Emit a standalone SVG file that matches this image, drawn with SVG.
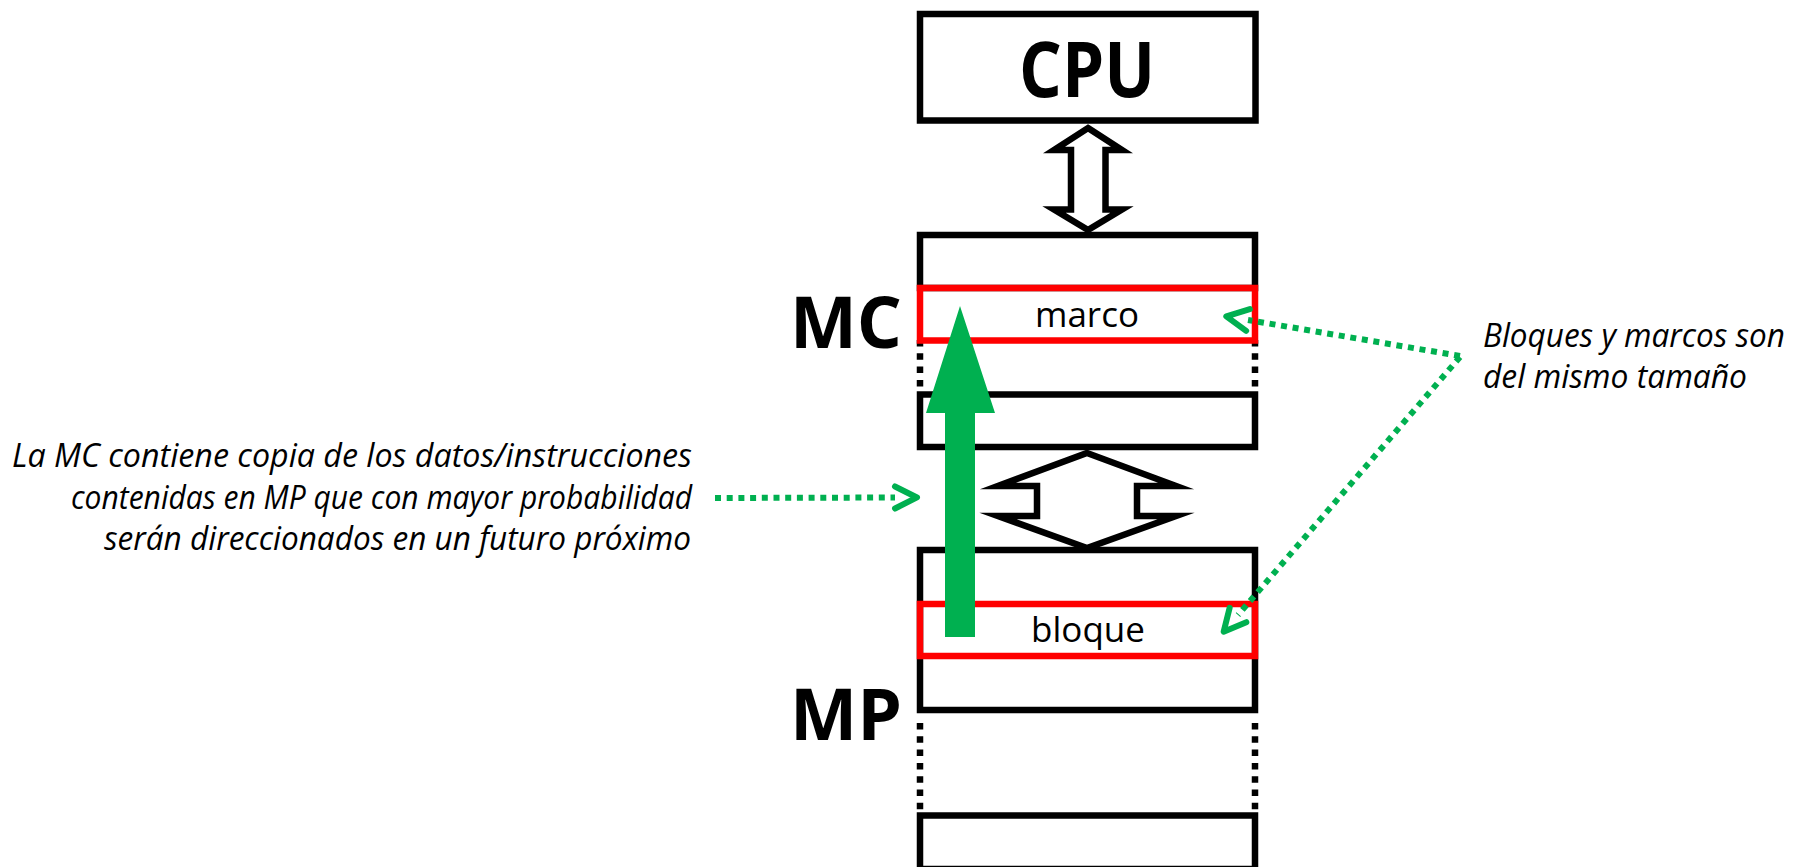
<svg xmlns="http://www.w3.org/2000/svg" width="1795" height="867" viewBox="0 0 1795 867">
  <style>
    .box { fill: #ffffff; stroke: #000000; stroke-width: 6.5; }
    .dots { fill: none; stroke: #000000; stroke-width: 6.5; stroke-dasharray: 6.5 6.8; }
    .slot { fill: none; stroke: #ff0000; stroke-width: 6.5; }
    .bus { fill: #ffffff; stroke: #000000; stroke-width: 6.5; stroke-linejoin: miter; stroke-miterlimit: 10; }
    .hint { fill: none; stroke: #00b050; stroke-width: 6; stroke-dasharray: 6 5.7; }
    .big { font-family: "Open Sans", "Liberation Sans", sans-serif; font-weight: bold; fill: #000000; }
    .lbl { font-family: "Open Sans", "Liberation Sans", sans-serif; font-size: 35px; fill: #000000; }
    .note { font-family: "Open Sans", "Liberation Sans", sans-serif; font-style: italic; font-size: 32px; fill: #000000; }
  </style>
  <defs>
    <marker id="chev" markerUnits="userSpaceOnUse" orient="auto" refX="0" refY="0" markerWidth="30" markerHeight="30" overflow="visible">
      <path d="M0,-11 L22,0 L0,11" fill="none" stroke="#00b050" stroke-width="6" stroke-linecap="round" stroke-linejoin="round"/>
    </marker>
  </defs>

  <rect width="1795" height="867" fill="#ffffff"/>

  <!-- processor -->
  <g id="cpu">
    <rect class="box" x="920" y="14" width="335.5" height="106.5"/>
    <text class="big" x="1087" y="97" font-size="77" text-anchor="middle" textLength="136" lengthAdjust="spacingAndGlyphs">CPU</text>
  </g>

  <!-- cache memory -->
  <g id="mc">
    <rect class="box" x="920" y="235" width="335" height="53"/>
    <line class="dots" x1="920" y1="340" x2="920" y2="389"/>
    <line class="dots" x1="1255" y1="340" x2="1255" y2="389"/>
    <rect class="box" x="920" y="394.5" width="335" height="52.5"/>
    <text class="big" x="790" y="348" font-size="72" textLength="112" lengthAdjust="spacingAndGlyphs">MC</text>
  </g>
  <g id="marco">
    <rect class="slot" x="920" y="288" width="335" height="52.5"/>
    <text class="lbl" x="1087" y="327" text-anchor="middle">marco</text>
  </g>

  <!-- main memory -->
  <g id="mp">
    <rect class="box" x="920" y="550" width="335" height="160"/>
    <line class="dots" x1="920" y1="723" x2="920" y2="811" stroke-dasharray="6 7.3"/>
    <line class="dots" x1="1255" y1="723" x2="1255" y2="811" stroke-dasharray="6 7.3"/>
    <rect class="box" x="920" y="815.5" width="335" height="53.5"/>
    <text class="big" x="790" y="740" font-size="72" textLength="112" lengthAdjust="spacingAndGlyphs">MP</text>
  </g>
  <g id="bloque">
    <rect class="slot" x="920" y="604" width="335" height="52"/>
    <text class="lbl" x="1088" y="642" text-anchor="middle">bloque</text>
  </g>

  <!-- buses, transfer and annotation links -->
  <g id="connectors">
    <polygon class="bus" points="1088,128 1122,150 1105.5,150 1105.5,209.5 1122,209.5 1088,230 1054,209.5 1071,209.5 1071,150 1054,150"/>
    <polygon class="bus" points="1087,453 1176,486 1137,486 1137,516 1176,516 1087,548 998,516 1037,516 1037,486 998,486"/>
    <polygon fill="#00b050" points="960,306 995,413 975,413 975,637 945,637 945,413 926,413"/>
    <line class="hint" x1="715" y1="498" x2="895" y2="497.5" marker-end="url(#chev)"/>
    <line class="hint" x1="1460" y1="356" x2="1248" y2="320" marker-end="url(#chev)"/>
    <line class="hint" x1="1460" y1="357" x2="1238" y2="615" marker-end="url(#chev)"/>
  </g>

  <!-- explanatory notes -->
  <g id="note-copy">
    <text class="note" x="12" y="467" textLength="680" lengthAdjust="spacingAndGlyphs">La MC contiene copia de los datos/instrucciones</text>
    <text class="note" x="71" y="509" textLength="621" lengthAdjust="spacingAndGlyphs">contenidas en MP que con mayor probabilidad</text>
    <text class="note" x="104" y="550" textLength="587" lengthAdjust="spacingAndGlyphs">serán direccionados en un futuro próximo</text>
  </g>
  <g id="note-size">
    <text class="note" x="1483" y="347" textLength="302" lengthAdjust="spacingAndGlyphs">Bloques y marcos son</text>
    <text class="note" x="1483" y="388" textLength="264" lengthAdjust="spacingAndGlyphs">del mismo tamaño</text>
  </g>
</svg>
